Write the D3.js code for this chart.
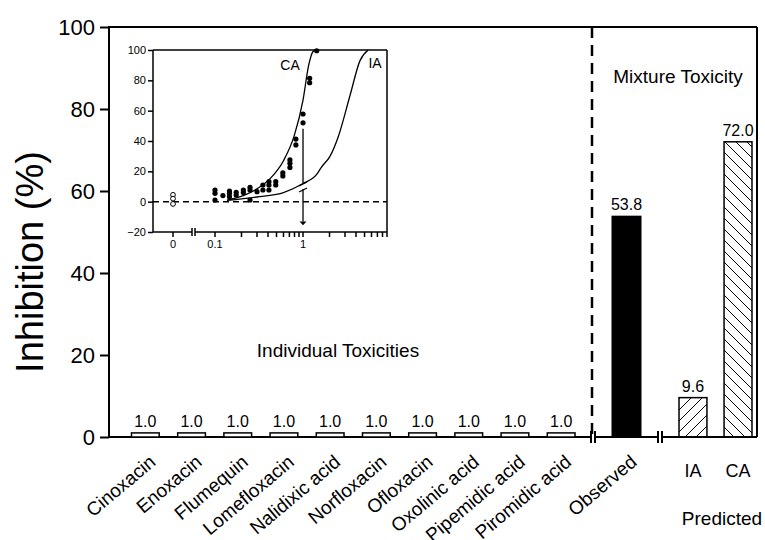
<!DOCTYPE html>
<html>
<head>
<meta charset="utf-8">
<script src="https://cdn.jsdelivr.net/npm/d3@7/dist/d3.min.js"></script>
<style>
  body { margin: 0; background: #ffffff; }
  text { font-family: Arial, "Liberation Sans", sans-serif; fill: #000; }
</style>
</head>
<body>
<div id="chart"></div>
<script>
// main chart data
const individualDrugs = ["Cinoxacin", "Enoxacin", "Flumequin", "Lomefloxacin", "Nalidixic acid",
  "Norfloxacin", "Ofloxacin", "Oxolinic acid", "Pipemidic acid", "Piromidic acid"];
const individualValues = [1.0, 1.0, 1.0, 1.0, 1.0, 1.0, 1.0, 1.0, 1.0, 1.0];
const observedNames = ["Observed"];
const observedValues = [53.8];
const predictedNames = ["IA", "CA"];
const predictedValues = [9.6, 72.0];
const yTicks = [0, 20, 40, 60, 80, 100];

// inset data: concentration (log axis) vs inhibition
const caCurve = [[0.137, 1], [0.21, 4], [0.3, 8.5], [0.42, 15], [0.6, 27], [0.8, 44],
  [1.0, 67], [1.16, 90], [1.3, 99], [1.4, 100]];
const iaCurve = [[0.137, 0.8], [0.32, 3.3], [0.6, 6], [1.0, 12], [1.43, 18], [1.63, 23],
  [2.03, 30], [2.52, 43], [3.42, 70], [4.44, 93], [5.5, 100]];
const measuredConc = [0.1, 0.1, 0.1, 0.123, 0.146, 0.146, 0.146, 0.174, 0.174, 0.21, 0.21,
  0.25, 0.25, 0.25, 0.3, 0.35, 0.35, 0.41, 0.41, 0.41, 0.49, 0.49, 0.59, 0.59,
  0.71, 0.71, 0.71, 0.83, 0.83, 1.0, 1.0, 1.19, 1.19, 1.43];
const measuredInhib = [7.7, 5.5, 1.1, 4, 7, 5.5, 3.3, 6.2, 4.4, 7.7, 6,
  9.5, 7.7, 1.1, 6.6, 11, 7.7, 13.2, 11, 7.7, 13.2, 11, 19, 17,
  27.5, 25.3, 22.6, 41.3, 37.4, 57.8, 52, 81.3, 78.4, 99.5];
const controlInhib = [4.5, 2, -1.5];
const insetYTicks = [-20, 0, 20, 40, 60, 80, 100];
const insetMajorTicks = [0.1, 1];
const insetMinorTicks = [0.2, 0.3, 0.4, 0.5, 0.6, 0.7, 0.8, 0.9, 2, 3, 4, 5, 6, 7, 8, 9];

const svg = d3.select("#chart").append("svg")
  .attr("width", 765)
  .attr("height", 540);

const defs = svg.append("defs");
defs.append("pattern")
  .attr("id", "hatchIA")
  .attr("patternUnits", "userSpaceOnUse")
  .attr("width", 11).attr("height", 11)
  .append("path")
  .attr("d", "M-2,2 l4,-4 M0,11 l11,-11 M9,13 l4,-4")
  .attr("stroke", "#000").attr("stroke-width", 1);
defs.append("pattern")
  .attr("id", "hatchCA")
  .attr("patternUnits", "userSpaceOnUse")
  .attr("width", 11).attr("height", 11)
  .append("path")
  .attr("d", "M-2,9 l4,4 M0,0 l11,11 M9,-2 l4,4")
  .attr("stroke", "#000").attr("stroke-width", 1);

const mLeft = 109, mRight = 757, mTop = 27, mBase = 437;

const y = d3.scaleLinear().domain([0, 100]).range([mBase, mTop]);
const xInd = d3.scaleBand().domain(individualDrugs).range([113, 593.5]).padding(0.4);
const xObs = d3.scaleBand().domain(observedNames).range([598, 655]).paddingInner(0.5).paddingOuter(0.25);
const xPred = d3.scaleBand().domain(predictedNames).range([670, 761]).paddingInner(0.38).paddingOuter(0.2);

// y axis
const yAxis = svg.append("g")
  .attr("transform", `translate(${mLeft},0)`)
  .call(d3.axisLeft(y).tickValues(yTicks).tickSize(9).tickPadding(5));
yAxis.select(".domain").remove();
yAxis.selectAll("line").attr("stroke-width", 2);
yAxis.selectAll("text").style("font-size", "22px").style("font-family", "Arial, 'Liberation Sans', sans-serif");

svg.append("line").attr("x1", mLeft).attr("x2", mLeft).attr("y1", mTop - 1).attr("y2", mBase + 1)
  .attr("stroke", "#000").attr("stroke-width", 2);
svg.append("line").attr("x1", mLeft).attr("x2", mRight).attr("y1", mTop).attr("y2", mTop)
  .attr("stroke", "#000").attr("stroke-width", 2);
svg.append("line").attr("x1", mRight).attr("x2", mRight).attr("y1", mTop).attr("y2", mBase)
  .attr("stroke", "#000").attr("stroke-width", 2);

// x axis with two breaks
const breaks = [593, 660];
const axisSegs = [[mLeft, breaks[0] - 2], [breaks[0] + 2, breaks[1] - 2], [breaks[1] + 2, mRight]];
svg.selectAll(".xseg").data(axisSegs).enter().append("line")
  .attr("x1", d => d[0]).attr("x2", d => d[1])
  .attr("y1", mBase).attr("y2", mBase)
  .attr("stroke", "#000").attr("stroke-width", 2);
breaks.forEach(b => {
  [-2, 2].forEach(o => {
    svg.append("line").attr("x1", b + o).attr("x2", b + o)
      .attr("y1", mBase - 6).attr("y2", mBase + 6)
      .attr("stroke", "#000").attr("stroke-width", 2);
  });
});

// separator
svg.append("line").attr("x1", 592).attr("x2", 592).attr("y1", mTop).attr("y2", mBase)
  .attr("stroke", "#000").attr("stroke-width", 2.5).attr("stroke-dasharray", "11,7");

function drawBars(names, values, scale, fill) {
  const g = svg.append("g");
  g.selectAll("rect").data(names).enter().append("rect")
    .attr("x", d => scale(d))
    .attr("y", (d, i) => y(values[i]))
    .attr("width", scale.bandwidth())
    .attr("height", (d, i) => mBase - y(values[i]))
    .attr("fill", fill)
    .attr("stroke", "#000")
    .attr("stroke-width", 1.5);
  g.selectAll("text").data(names).enter().append("text")
    .attr("x", d => scale(d) + scale.bandwidth() / 2)
    .attr("y", (d, i) => y(values[i]) - 6)
    .attr("text-anchor", "middle")
    .style("font-size", "16px")
    .text((d, i) => d3.format(".1f")(values[i]));
}
drawBars(individualDrugs, individualValues, xInd, "#fff");
drawBars(observedNames, observedValues, xObs, "#000");
svg.append("g").selectAll("rect").data(predictedNames).enter().append("rect")
  .attr("x", d => xPred(d))
  .attr("y", (d, i) => y(predictedValues[i]))
  .attr("width", xPred.bandwidth())
  .attr("height", (d, i) => mBase - y(predictedValues[i]))
  .attr("fill", d => d === "IA" ? "url(#hatchIA)" : "url(#hatchCA)")
  .attr("stroke", "#000").attr("stroke-width", 1.5);
svg.append("g").selectAll("text").data(predictedNames).enter().append("text")
  .attr("x", d => xPred(d) + xPred.bandwidth() / 2)
  .attr("y", (d, i) => y(predictedValues[i]) - 6)
  .attr("text-anchor", "middle")
  .style("font-size", "16px")
  .text((d, i) => d3.format(".1f")(predictedValues[i]));

// x labels
const rotated = individualDrugs.map(d => ({ name: d, cx: xInd(d) + xInd.bandwidth() / 2 }))
  .concat(observedNames.map(d => ({ name: d, cx: xObs(d) + xObs.bandwidth() / 2 })));
svg.append("g").selectAll("text").data(rotated).enter().append("text")
  .attr("transform", d => `translate(${d.cx + 11.5},464) rotate(-40)`)
  .attr("text-anchor", "end")
  .style("font-size", "19px")
  .text(d => d.name);
svg.append("g").selectAll("text").data(predictedNames).enter().append("text")
  .attr("x", d => xPred(d) + xPred.bandwidth() / 2)
  .attr("y", 477)
  .attr("text-anchor", "middle")
  .style("font-size", "18px")
  .text(d => d);
svg.append("text").attr("x", 722).attr("y", 525).attr("text-anchor", "middle")
  .style("font-size", "19px").text("Predicted");

svg.append("text").attr("x", 678).attr("y", 83).attr("text-anchor", "middle")
  .style("font-size", "19px").text("Mixture Toxicity");
svg.append("text").attr("x", 338).attr("y", 357).attr("text-anchor", "middle")
  .style("font-size", "19px").text("Individual Toxicities");

svg.append("text")
  .attr("transform", "translate(43,262) rotate(-90)")
  .attr("text-anchor", "middle")
  .style("font-size", "38px")
  .text("Inhibition (%)");

// ---------- inset ----------
const ix = d3.scaleLog().domain([0.1, 9]).range([215, 387]);
const iy = d3.scaleLinear().domain([-20, 100]).range([232, 50]);
const ix0 = 173;
const inset = svg.append("g");

const iyAxis = inset.append("g").attr("transform", "translate(153,0)")
  .call(d3.axisLeft(iy).tickValues(insetYTicks).tickSize(5).tickPadding(2));
iyAxis.select(".domain").remove();
iyAxis.selectAll("line").attr("stroke-width", 1.5);
iyAxis.selectAll("text").style("font-size", "11px");

inset.append("line").attr("x1", 153).attr("x2", 153).attr("y1", 50).attr("y2", 232)
  .attr("stroke", "#000").attr("stroke-width", 1.5);
inset.append("line").attr("x1", 153).attr("x2", 387).attr("y1", 50).attr("y2", 50)
  .attr("stroke", "#000").attr("stroke-width", 1.5);
inset.append("line").attr("x1", 387).attr("x2", 387).attr("y1", 50).attr("y2", 232)
  .attr("stroke", "#000").attr("stroke-width", 1.5);
inset.append("line").attr("x1", 153).attr("x2", 192).attr("y1", 232).attr("y2", 232)
  .attr("stroke", "#000").attr("stroke-width", 1.5);
inset.append("line").attr("x1", 195).attr("x2", 387).attr("y1", 232).attr("y2", 232)
  .attr("stroke", "#000").attr("stroke-width", 1.5);
[192, 195].forEach(b => inset.append("line").attr("x1", b).attr("x2", b)
  .attr("y1", 228).attr("y2", 236).attr("stroke", "#000").attr("stroke-width", 1.5));

const tickXs = [ix0].concat(insetMajorTicks.map(ix), insetMinorTicks.map(ix));
inset.selectAll(".itick").data(tickXs).enter().append("line")
  .attr("x1", d => d).attr("x2", d => d).attr("y1", 232).attr("y2", 237)
  .attr("stroke", "#000").attr("stroke-width", 1.5);
const tickLabels = [{ x: ix0, t: "0" }].concat(insetMajorTicks.map(v => ({ x: ix(v), t: String(v) })));
inset.selectAll(".itl").data(tickLabels).enter().append("text")
  .attr("x", d => d.x).attr("y", 248).attr("text-anchor", "middle")
  .style("font-size", "11px").text(d => d.t);

inset.append("line").attr("x1", 153).attr("x2", 387).attr("y1", iy(0)).attr("y2", iy(0))
  .attr("stroke", "#000").attr("stroke-width", 1.5).attr("stroke-dasharray", "6,4");

const line = d3.line().x(d => ix(d[0])).y(d => iy(d[1])).curve(d3.curveMonotoneX);
[caCurve, iaCurve].forEach(c => inset.append("path").datum(c).attr("d", line)
  .attr("fill", "none").attr("stroke", "#000").attr("stroke-width", 1.3));

inset.selectAll(".dot").data(measuredConc).enter().append("circle")
  .attr("cx", d => ix(d)).attr("cy", (d, i) => iy(measuredInhib[i])).attr("r", 2.6)
  .attr("fill", "#000");
inset.selectAll(".ctl").data(controlInhib).enter().append("circle")
  .attr("cx", ix0).attr("cy", d => iy(d)).attr("r", 2.4)
  .attr("fill", "#fff").attr("stroke", "#000").attr("stroke-width", 1);

// arrow at concentration 1 from observed down to IA prediction with break
const ax = ix(1);
inset.append("line").attr("x1", ax).attr("x2", ax).attr("y1", iy(48)).attr("y2", 183)
  .attr("stroke", "#000").attr("stroke-width", 1.3);
inset.append("line").attr("x1", ax).attr("x2", ax).attr("y1", 189).attr("y2", iy(-13))
  .attr("stroke", "#000").attr("stroke-width", 1.3);
[184, 190].forEach(yy => inset.append("line").attr("x1", ax - 4).attr("x2", ax + 4)
  .attr("y1", yy + 2).attr("y2", yy - 2).attr("stroke", "#000").attr("stroke-width", 1.3));
inset.append("path")
  .attr("d", `M${ax - 3.5},${iy(-13)} L${ax + 3.5},${iy(-13)} L${ax},${iy(-15.5)} Z`)
  .attr("fill", "#000");

inset.append("text").attr("x", 290).attr("y", 70).attr("text-anchor", "middle")
  .style("font-size", "14px").text("CA");
inset.append("text").attr("x", 375).attr("y", 68).attr("text-anchor", "middle")
  .style("font-size", "14px").text("IA");
</script>
</body>
</html>
